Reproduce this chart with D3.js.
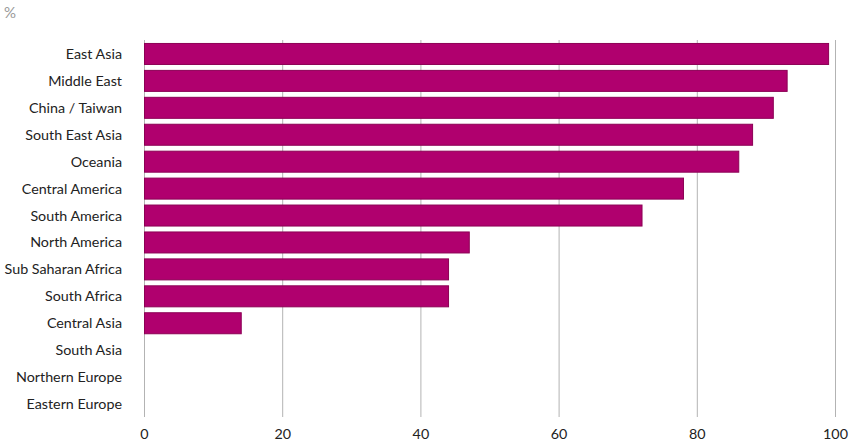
<!DOCTYPE html>
<html><head><meta charset="utf-8">
<script src="https://cdn.jsdelivr.net/npm/d3@7"></script>
<style>body{margin:0;background:#fff}svg{display:block}text{font-family:Lato,"Noto Sans",sans-serif}</style>
</head><body><svg id="c" width="850" height="448"></svg>
<script>
const categories = ["East Asia","Middle East","China / Taiwan","South East Asia","Oceania","Central America","South America","North America","Sub Saharan Africa","South Africa","Central Asia","South Asia","Northern Europe","Eastern Europe"];
const values = [99,93,91,88,86,78,72,47,44,44,14,0,0,0];
const ticks = [0,20,40,60,80,100];
const unitLabel = "%";

const svg = d3.select("#c");
const x = d3.scaleLinear().domain([0,100]).range([144.5,835.5]);
const y = d3.scaleBand().domain(categories).range([40.5,417.5]).paddingInner(0.22).paddingOuter(0.11);

svg.append("g").selectAll("line").data(ticks).join("line")
  .attr("x1",d=>x(d)).attr("x2",d=>x(d)).attr("y1",40).attr("y2",417)
  .attr("stroke","#b3b3b3").attr("stroke-width",1);

const barData = values.map((v,i)=>({c:categories[i],v})).filter(d=>d.v>0);
svg.append("g").selectAll("rect").data(barData).join("rect")
  .attr("x",x(0)).attr("y",d=>y(d.c)).attr("width",d=>x(d.v)-x(0)).attr("height",y.bandwidth())
  .attr("fill","#b0006e").attr("stroke","#8c0055").attr("stroke-width",1);

svg.append("g").selectAll("text").data(categories).join("text")
  .attr("x",122).attr("y",d=>y(d)+y.bandwidth()/2).attr("dy","0.35em")
  .attr("text-anchor","end").attr("font-size",14.3).attr("fill","#222").text(d=>d);

svg.append("g").selectAll("text").data(ticks).join("text")
  .attr("x",d=>x(d)).attr("y",434).attr("dy","0.35em").attr("text-anchor","middle")
  .attr("font-size",14.3).attr("fill","#222").text(d=>d);

svg.append("text").attr("x",4).attr("y",13).attr("dy","0.35em").attr("font-size",15).attr("fill","#999").text(unitLabel);
</script></body></html>
